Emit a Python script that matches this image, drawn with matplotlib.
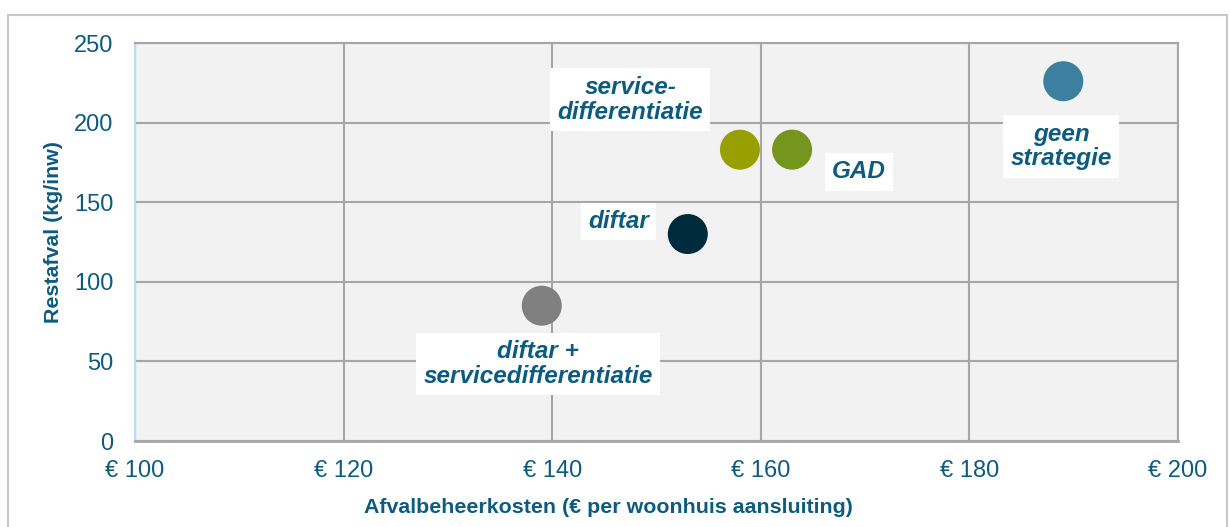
import matplotlib.pyplot as plt
from matplotlib.patches import Rectangle

plt.rcParams["font.family"] = ["Liberation Sans", "DejaVu Sans"]

# data
labels = ["geen\nstrategie", "GAD", "service-\ndifferentiatie", "diftar",
          "diftar +\nservicedifferentiatie"]
kosten = [189, 163, 158, 153, 139]
restafval = [226, 183, 183, 130, 85]
colors = ["#3d7f9f", "#74961f", "#97a000", "#002b3c", "#808080"]
# label offsets in points from each point
offsets = [(-1.5, -47), (48, -16), (-79, 36), (-50, 9), (-2.5, -42)]

TXT = "#0d5b7f"
GRID = "#a6a6a6"

fig = plt.figure(figsize=(12.3, 5.27), dpi=100)
fig.patches.append(Rectangle((8 / 1230, -0.1), 1219 / 1230, 1.1 - 15 / 527,
                             transform=fig.transFigure, fill=False,
                             edgecolor="#c8c8c8", linewidth=1.5))
ax = fig.add_axes([135 / 1230, 1 - 441 / 527, 1043 / 1230, 398 / 527])
ax.set_facecolor("#f2f2f2")

ax.scatter(kosten, restafval, s=830, c=colors, linewidths=0, zorder=3)
for lab, x, y, off in zip(labels, kosten, restafval, offsets):
    ax.annotate(lab, (x, y), xytext=off, textcoords="offset points",
                ha="center", va="center", fontsize=17.5, fontweight="bold",
                fontstyle="italic", color=TXT, linespacing=1.1, zorder=4,
                bbox=dict(boxstyle="square,pad=0.3", fc="white", ec="none"))

ax.set_xlim(100, 200)
ax.set_ylim(0, 250)
ax.set_xticks(range(100, 201, 20))
ax.set_xticklabels([f"€ {v}" for v in range(100, 201, 20)])
ax.set_yticks(range(0, 251, 50))
ax.grid(color=GRID, linewidth=1.5)
ax.set_axisbelow(True)
ax.tick_params(length=0, labelsize=17, labelcolor=TXT)
ax.tick_params(axis="x", pad=14)
ax.tick_params(axis="y", pad=15.5)

for side in ["top", "right", "bottom"]:
    ax.spines[side].set_color(GRID)
    ax.spines[side].set_linewidth(1.5)
ax.spines["bottom"].set_linewidth(2)
ax.spines["left"].set_color("#b3e0f5")
ax.spines["left"].set_linewidth(1.5)

ax.set_xlabel("Afvalbeheerkosten (€ per woonhuis aansluiting)", fontsize=15.4,
              fontweight="bold", color=TXT, va="center")
ax.xaxis.set_label_coords(0.4535, -0.168)
ax.set_ylabel("Restafval (kg/inw)", fontsize=15.4, fontweight="bold",
              color=TXT, va="center")
ax.yaxis.set_label_coords(-0.0777, 0.525)

fig.savefig("out.png", dpi=100)
